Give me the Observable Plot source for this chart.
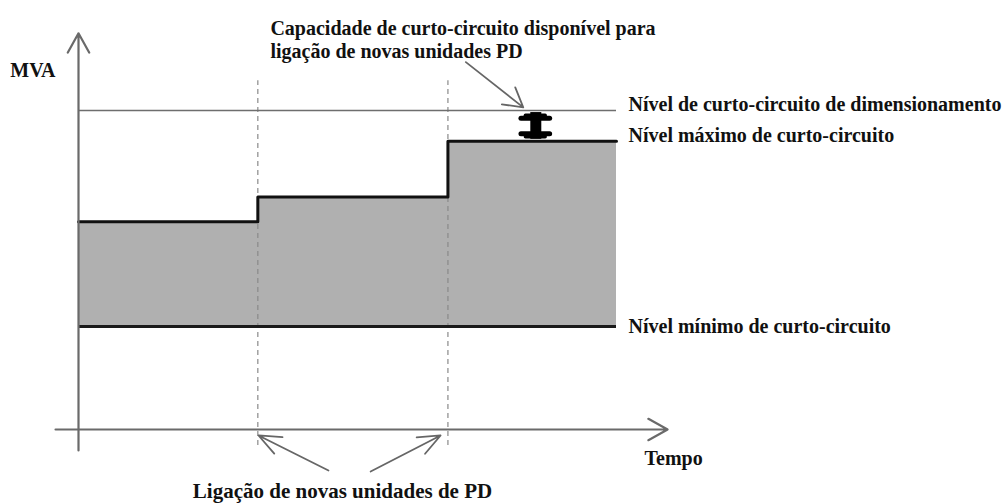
<!DOCTYPE html>
<html><head><meta charset="utf-8">
<script src="https://cdn.jsdelivr.net/npm/d3@7"></script>
<script src="https://cdn.jsdelivr.net/npm/@observablehq/plot@0.6"></script>
<style>body{margin:0;background:#fff}</style>
</head><body><div id="chart"></div>
<script>
// ---- data (schematic units) ----
const periodStarts = [0, 10, 20.6, 30];         // time at which each period begins (last = horizon end)
const maxLevels    = [20.2, 22.6, 28, 28];      // maximum short-circuit level per period (MVA)
const stepTimes    = [10, 20.6];                // connection of new DG units
const horizonEnd   = 30;
const minLevel     = 10;                        // minimum short-circuit level
const designLevel  = 31;                        // design short-circuit level
const levelLabels  = ["Nível de curto-circuito de dimensionamento", "Nível máximo de curto-circuito", "Nível mínimo de curto-circuito"];
const axisLabels   = ["MVA", "Tempo"];
const topNote      = "Capacidade de curto-circuito disponível para\nligação de novas unidades PD";
const bottomNote   = "Ligação de novas unidades de PD";
const capacityTime = 25.5;
// annotation pointers: [x1, y1, x2, y2] in data units
const topPointer     = [[21.6, 35.7, 24.8, 31.3]];
const bottomPointers = [[13.94, -3.98, 10.04, -0.58], [16.29, -4.08, 20.19, -0.58]];

const maxData = periodStarts.map((t, i) => ({t, v: maxLevels[i]}));
const font = "'Liberation Serif','Times New Roman',serif";
const fs = 20;
const seg = {x1: d => d[0], y1: d => d[1], x2: d => d[2], y2: d => d[3]};
const capTop = designLevel - 0.2, capBot = maxLevels[2] + 0.2;

const chart = Plot.plot({
  width: 1008, height: 504,
  margin: 0,
  x: {domain: [0, 30], range: [78, 616], axis: null},
  y: {domain: [0, 31], range: [429, 110], axis: null},
  style: {fontFamily: font, fontWeight: "bold", background: "#fff", overflow: "visible"},
  marks: [
    Plot.areaY(maxData, {x: "t", y1: minLevel, y2: "v", curve: "step-after", fill: "#b0b0b0"}),
    Plot.ruleX(stepTimes, {y1: -1.55, y2: 33.9, stroke: "#8a8a8a", strokeDasharray: "5,4", strokeWidth: 1.2}),
    Plot.ruleY([designLevel], {x1: 0, x2: horizonEnd, stroke: "#6e6e6e", strokeWidth: 1.6}),
    Plot.line(maxData, {x: "t", y: "v", curve: "step-after", stroke: "#111", strokeWidth: 3}),
    Plot.ruleY([minLevel], {x1: 0, x2: horizonEnd, stroke: "#1a1a1a", strokeWidth: 3}),
    // axes with arrowheads
    Plot.arrow([[0, -2.04, 0, 38.5]], {...seg, stroke: "#6a6a6a", strokeWidth: 2.2, headLength: 15, headAngle: 58}),
    Plot.arrow([[-1.28, 0, 32.85, 0]], {...seg, stroke: "#6a6a6a", strokeWidth: 2.2, headLength: 15, headAngle: 58}),
    // double arrow showing available capacity
    Plot.ruleX([capacityTime], {y1: capBot, y2: capTop, stroke: "#000", strokeWidth: 11}),
    Plot.ruleY([capTop - 0.55, capBot + 0.55], {x1: capacityTime - 0.8, x2: capacityTime + 0.8, stroke: "#000", strokeWidth: 5, strokeLinecap: "round"}),
    Plot.ruleY([capTop - 0.25, capBot + 0.25], {x1: capacityTime - 0.55, x2: capacityTime + 0.55, stroke: "#000", strokeWidth: 3.5, strokeLinecap: "round"}),
    // pointers
    Plot.arrow(topPointer, {...seg, stroke: "#666", strokeWidth: 1.8, headLength: 18, headAngle: 60}),
    Plot.arrow(bottomPointers, {...seg, stroke: "#666", strokeWidth: 1.8, headLength: 20, headAngle: 45}),
    // level labels
    Plot.text([designLevel, maxLevels[2]], {x: horizonEnd, y: d => d, text: (d, i) => levelLabels[i], textAnchor: "start", dx: 12, dy: -6, fontSize: fs, fill: "#111"}),
    Plot.text([minLevel], {x: horizonEnd, y: d => d, text: [levelLabels[2]], textAnchor: "start", dx: 12, dy: 0, fontSize: fs, fill: "#111"}),
    // axis labels
    Plot.text([axisLabels[0]], {x: 0, y: 38.5, dx: -23, dy: 37, textAnchor: "end", fontSize: fs, fill: "#111"}),
    Plot.text([axisLabels[1]], {x: 32.85, y: 0, dx: 6, dy: 29, textAnchor: "middle", fontSize: fs, fill: "#111"}),
    // notes
    Plot.text([topNote], {x: 10.7, y: 39.9, textAnchor: "start", lineAnchor: "top", lineHeight: 1.15, fontSize: fs, fill: "#111"}),
    Plot.text([bottomNote], {x: 14.72, y: -5.98, textAnchor: "middle", fontSize: 21, fill: "#111"})
  ]
});
document.getElementById("chart").appendChild(chart);
</script>
</body></html>
